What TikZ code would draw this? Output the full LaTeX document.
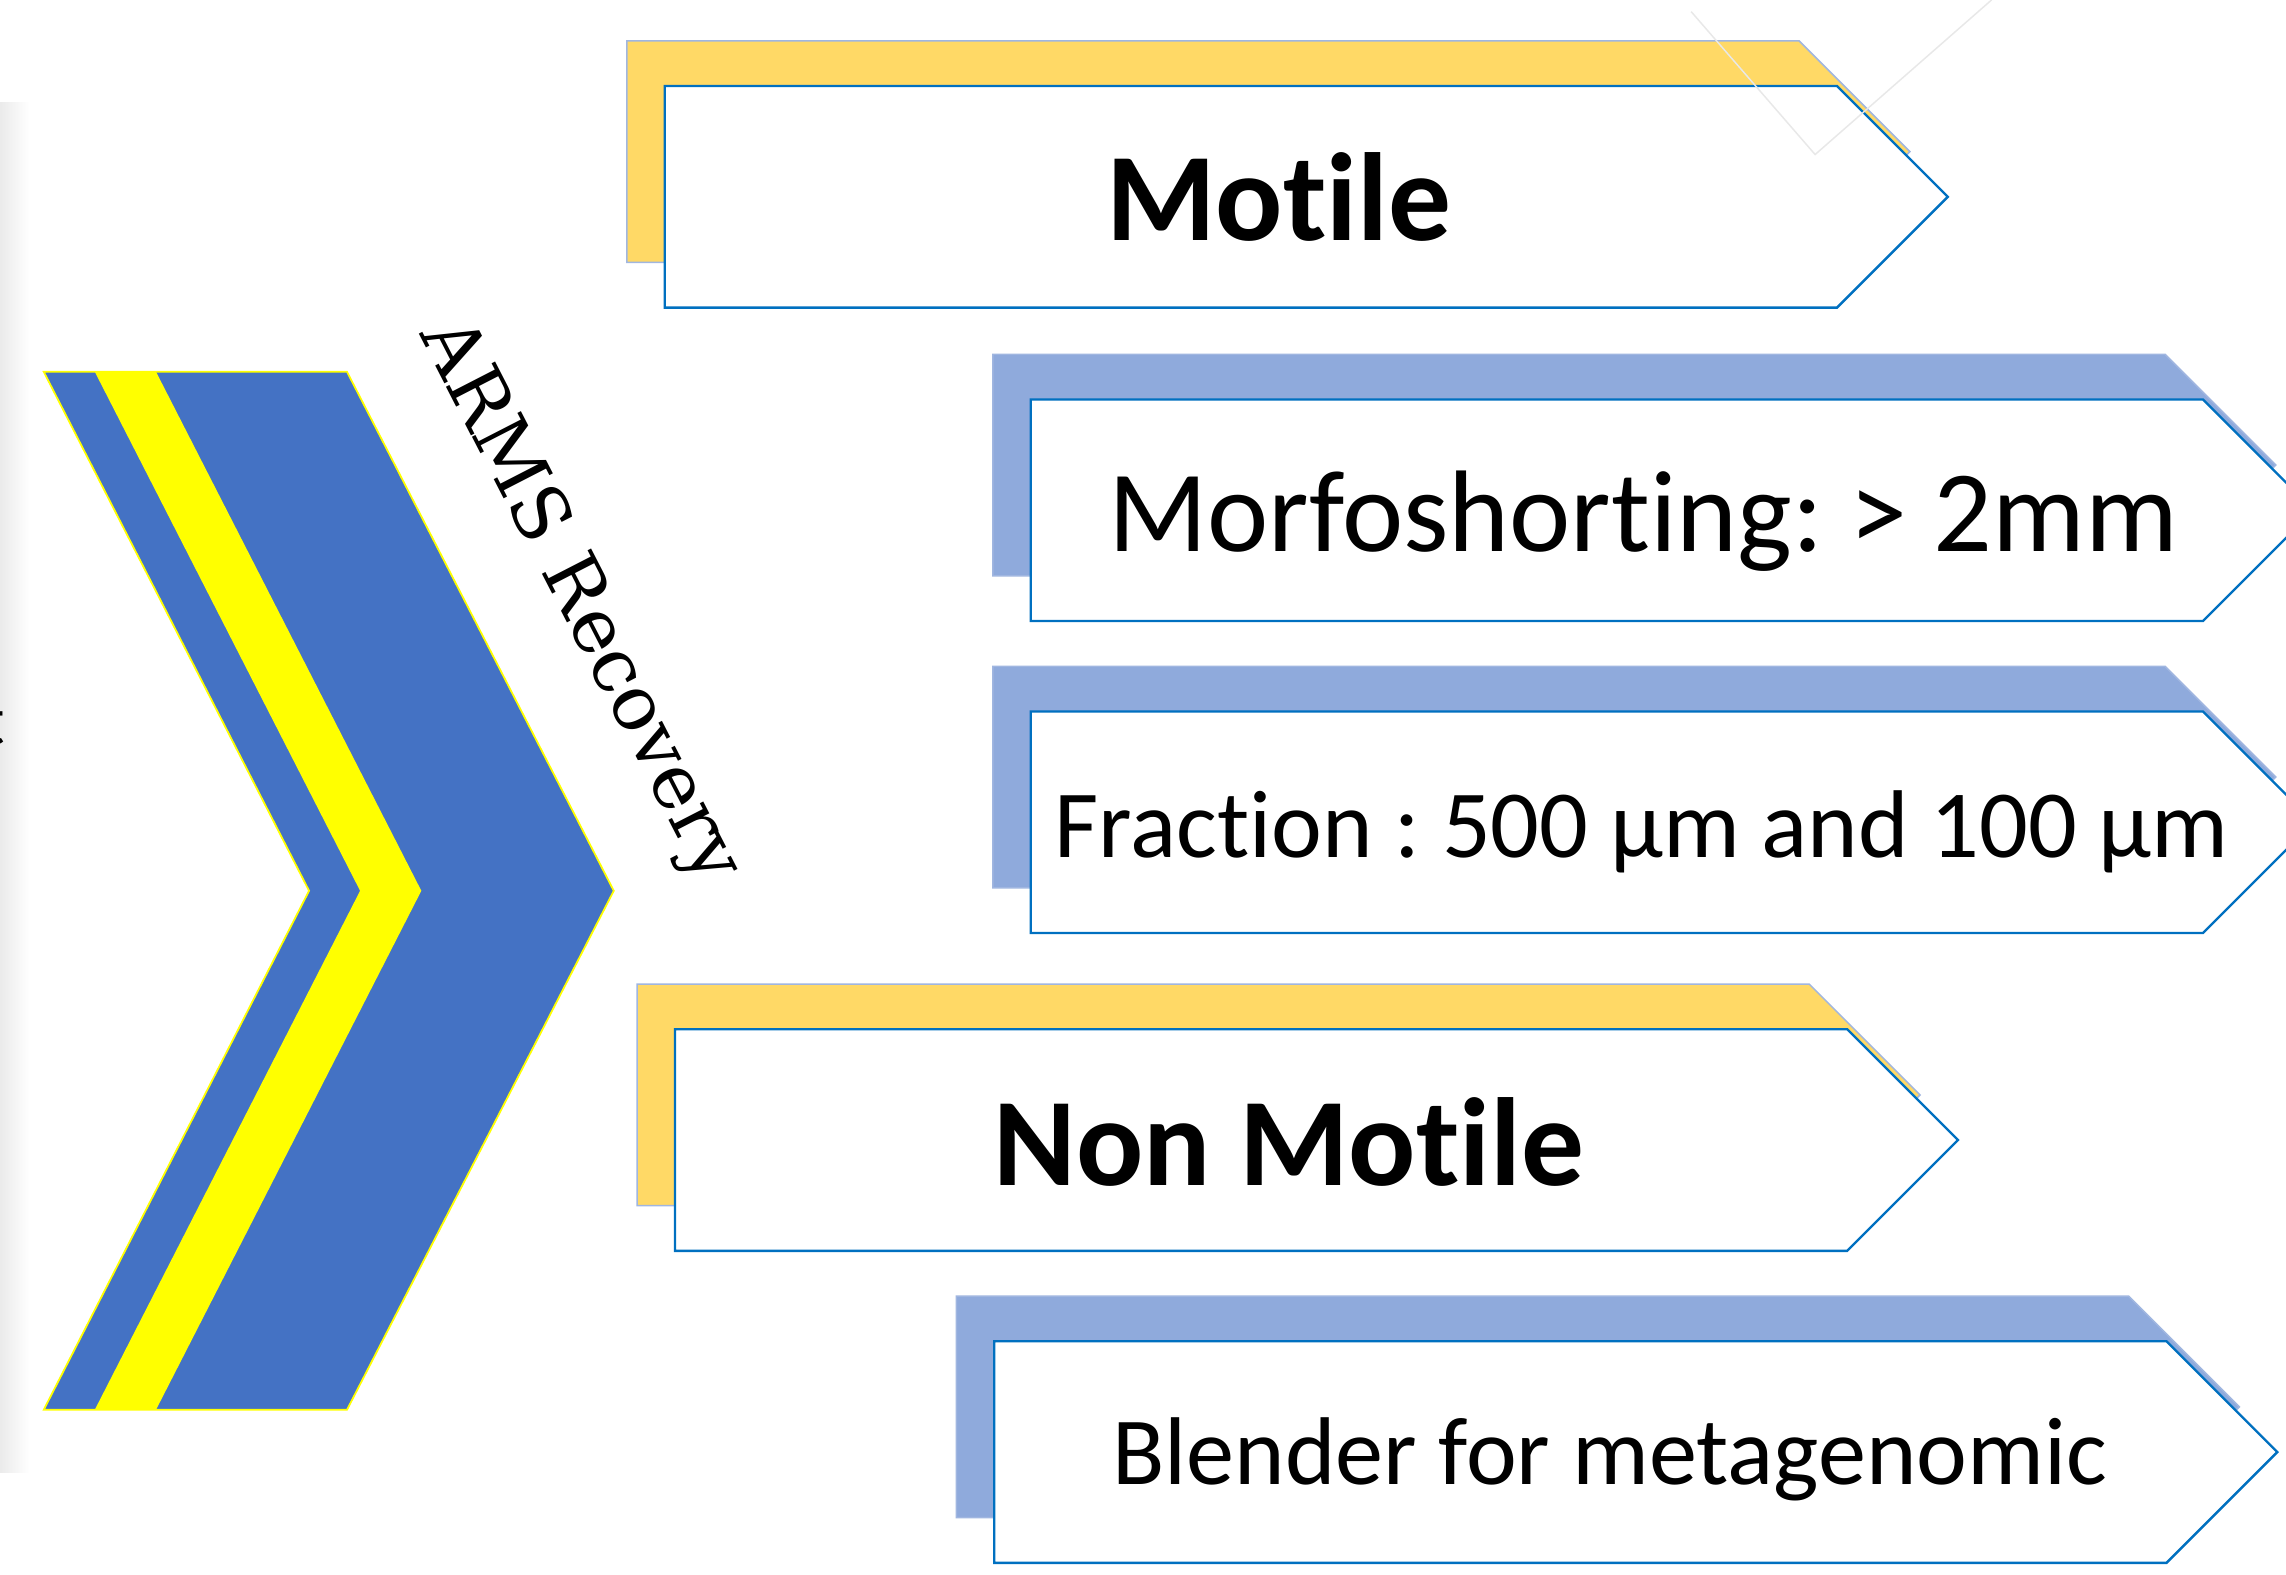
\documentclass[tikz,border=0pt]{standalone}
\usepackage{fontspec}
\newfontfamily\carlito[Ligatures=NoCommon]{Carlito}
\newfontfamily\armsfont{DejaVu Serif}
\definecolor{frontblue}{RGB}{0,112,192}
\definecolor{goldback}{RGB}{255,217,102}
\definecolor{blueback}{RGB}{143,170,220}
\definecolor{backline}{RGB}{160,182,224}
\definecolor{chevblue}{RGB}{68,114,196}
\definecolor{chevyellow}{RGB}{255,255,0}
\newcommand\mytagbox[3]{%
  \filldraw[backshape, fill=#3] ({#1-26},{#2-31}) -- ++(804,0) -- ++(76,76) -- ++(-76,76) -- ++(-804,0) -- cycle;
  \filldraw[frontshape] (#1,#2) -- ++(804,0) -- ++(76,76) -- ++(-76,76) -- ++(-804,0) -- cycle;
}
\begin{document}
\frenchspacing
\begin{tikzpicture}[x=0.5pt,y=-0.5pt,
  backshape/.style={draw=backline, line width=0.5pt},
  frontshape/.style={fill=white, draw=frontblue, line width=0.8pt, line join=miter},
  boldtext/.style={font=\carlito\bfseries\fontsize{43pt}{50pt}\selectfont, anchor=base, inner sep=0pt},
  bigtext/.style={font=\carlito\fontsize{39.8pt}{46pt}\selectfont, anchor=base, inner sep=0pt},
  smalltext/.style={font=\carlito\fontsize{33pt}{40pt}\selectfont, anchor=base, inner sep=0pt}]
\useasboundingbox (0,0) rectangle (1568,1080);
\clip (0,0) rectangle (1568,1080);
\fill[white] (0,0) rectangle (1568,1080);
\shade[left color=black!8, right color=white] (0,70) rectangle (20,1010);
\node[font=\carlito\fontsize{24pt}{24pt}\selectfont, anchor=base east, inner sep=0pt] (frag) at (4,511) {t};
% chevron
\filldraw[fill=chevblue, draw=chevyellow, line width=0.6pt, line join=miter]
  (30,255) -- (238,255) -- (421,611) -- (238,967) -- (30,967) -- (212,611) -- cycle;
\fill[chevyellow] (65,255) -- (107,255) -- (289,611) -- (107,967) -- (65,967) -- (247,611) -- cycle;
\node[font=\armsfont\fontsize{26pt}{28pt}\selectfont, rotate=-62.8, inner sep=0pt] (arms) at (397,413) {ARMS Recovery};
% boxes
\mytagbox{456}{59}{goldback}
\mytagbox{707}{274}{blueback}
\mytagbox{707}{488}{blueback}
\mytagbox{463}{706}{goldback}
\mytagbox{682}{920}{blueback}
\node[boldtext] (motile) at (877,165) {Motile};
\node[bigtext] (morfo) at (1127,378) {Morfoshorting: > 2mm};
\node[smalltext] (fraction) at (1126,588) {Fraction : 500 µm and 100 µm};
\node[boldtext] (nonmotile) at (884,813) {Non Motile};
\node[smalltext] (blender) at (1104,1018) {Blender for metagenomic};
% faint background lines
\draw[black!9, line width=0.5pt] (1160,8) -- (1245,106) -- (1366,0);
\end{tikzpicture}
\end{document}
